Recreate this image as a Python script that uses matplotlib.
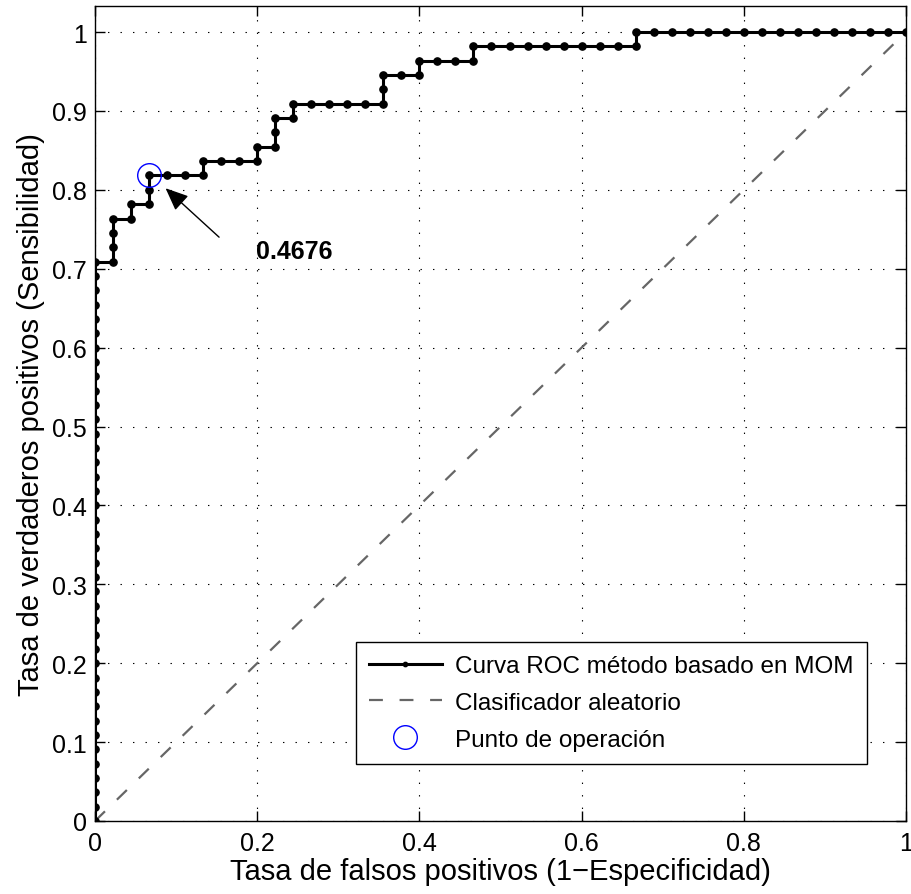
import matplotlib
matplotlib.use('Agg')
import matplotlib.pyplot as plt

# ROC points as counts: false positives (of 45 negatives), true positives (of 55 positives)
n_neg = 45
n_pos = 55
fp_counts = [0, 0, 0, 0, 0, 0, 0, 0, 0, 0, 0, 0, 0, 0, 0, 0, 0, 0, 0, 0,
             0, 0, 0, 0, 0, 0, 0, 0, 0, 0, 0, 0, 0, 0, 0, 0, 0, 0, 0, 0,
             1, 1, 1, 1, 2, 2, 3, 3, 3, 4, 5, 6, 6, 7, 8, 9, 9, 10, 10, 10,
             11, 11, 12, 13, 14, 15, 16, 16, 16, 17, 18, 18, 19, 20, 21, 21,
             22, 23, 24, 25, 26, 27, 28, 29, 30, 30,
             31, 32, 33, 34, 35, 36, 37, 38, 39, 40, 41, 42, 43, 44, 45]
tp_counts = [0, 1, 2, 3, 4, 5, 6, 7, 8, 9, 10, 11, 12, 13, 14, 15, 16, 17, 18, 19,
             20, 21, 22, 23, 24, 25, 26, 27, 28, 29, 30, 31, 32, 33, 34, 35, 36, 37, 38, 39,
             39, 40, 41, 42, 42, 43, 43, 44, 45, 45, 45, 45, 46, 46, 46, 46, 47, 47, 48, 49,
             49, 50, 50, 50, 50, 50, 50, 51, 52, 52, 52, 53, 53, 53, 53, 54,
             54, 54, 54, 54, 54, 54, 54, 54, 54, 55,
             55, 55, 55, 55, 55, 55, 55, 55, 55, 55, 55, 55, 55, 55, 55]

fpr = [c / n_neg for c in fp_counts]
tpr = [c / n_pos for c in tp_counts]

op_point = (3 / n_neg, 45 / n_pos)
op_label = '0.4676'

plt.rcParams['font.family'] = ['Liberation Sans', 'DejaVu Sans']
plt.rcParams['font.size'] = 18
plt.rcParams['lines.scale_dashes'] = False

fig = plt.figure(figsize=(9.12, 8.95), dpi=100)
ax = fig.add_axes([95 / 912, 1 - 822 / 895, 811 / 912, 815 / 895])

ax.plot(fpr, tpr, color='k', lw=2.2, marker='o', ms=5.2,
        label='Curva ROC método basado en MOM', zorder=3)
ax.plot([0, 1], [0, 1], color=(0.4, 0.4, 0.4), lw=1.6, dashes=(10, 12),
        label='Clasificador aleatorio', zorder=2)
ax.plot([op_point[0]], [op_point[1]], linestyle='none', marker='o', ms=17,
        mfc='none', mec='b', mew=1, label='Punto de operación', zorder=4)

ax.annotate('', xy=(0.087, 0.802), xytext=(0.153, 0.740),
            arrowprops=dict(arrowstyle='-|>,head_length=0.7,head_width=0.3',
                            color='k', lw=1, shrinkA=0, shrinkB=0,
                            mutation_scale=20))
ax.text(0.198, 0.722, op_label, fontweight='bold', fontsize=18,
        ha='left', va='center')

ax.set_xlim(0, 1)
ax.set_ylim(0, 1.033)
ax.set_xticks([0, 0.2, 0.4, 0.6, 0.8, 1])
ax.set_xticklabels(['0', '0.2', '0.4', '0.6', '0.8', '1'])
ax.set_yticks([i / 10 for i in range(11)])
ax.set_yticklabels(['0', '0.1', '0.2', '0.3', '0.4', '0.5', '0.6', '0.7', '0.8', '0.9', '1'])
ax.tick_params(direction='in', top=True, right=True, length=7, width=1, labelsize=18)
ax.tick_params(axis='x', pad=7)
ax.tick_params(axis='y', pad=6)
ax.grid(True, color='k', lw=0.8, linestyle=(0, (1, 8)))
for s in ax.spines.values():
    s.set_linewidth(1)

ax.set_xlabel('Tasa de falsos positivos (1\u2212Especificidad)', fontsize=21, labelpad=2)
ax.set_ylabel('Tasa de verdaderos positivos (Sensibilidad)', fontsize=21, labelpad=5)

leg = ax.legend(loc='lower right', bbox_to_anchor=(0.952, 0.07), borderaxespad=0,
                fancybox=False, edgecolor='k', framealpha=1, handlelength=3,
                handletextpad=0.55, labelspacing=0.6, borderpad=0.55, numpoints=1,
                markerscale=0.6, fontsize=17.5)
leg.get_frame().set_linewidth(1)
leg.legend_handles[2].set_markersize(17)

fig.savefig('out.png', dpi=100)
